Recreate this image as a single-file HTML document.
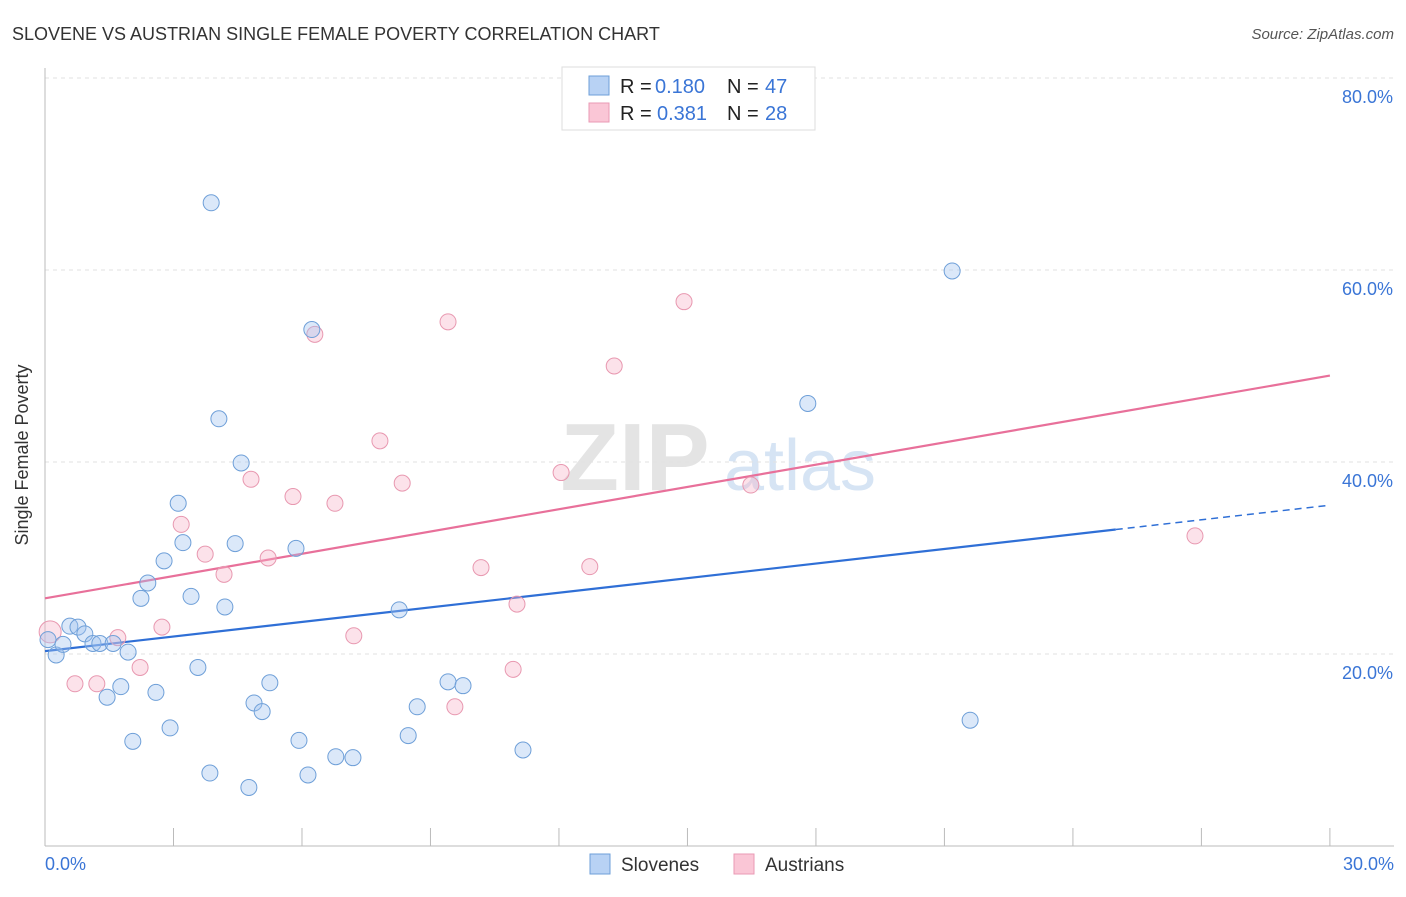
<!DOCTYPE html>
<html><head><meta charset="utf-8"><style>
body{margin:0;background:#fff;font-family:"Liberation Sans",sans-serif;}
svg text{font-family:"Liberation Sans",sans-serif;}
</style></head><body>
<svg id="chart" width="1406" height="892" xmlns="http://www.w3.org/2000/svg">
<text x="12" y="40" font-size="18" fill="#333">SLOVENE VS AUSTRIAN SINGLE FEMALE POVERTY CORRELATION CHART</text>
<text x="1394" y="39" font-size="15" fill="#555" font-style="italic" text-anchor="end">Source: ZipAtlas.com</text>
<text x="635" y="490" font-size="96" fill="#e4e4e4" font-family="Liberation Serif" font-weight="bold" text-anchor="middle">ZIP</text>
<text x="800" y="490" font-size="72" fill="#d6e4f4" text-anchor="middle">atlas</text>
<g id="grid"></g><g id="axes"></g><g id="lines"></g><g id="pts"></g>
<text x="28" y="455" font-size="18" fill="#333" text-anchor="middle" transform="rotate(-90 28 455)">Single Female Poverty</text>
<text x="45" y="870" font-size="18" fill="#3a75d6">0.0%</text>
<text x="1394" y="870" font-size="18" fill="#3a75d6" text-anchor="end">30.0%</text>
<g>
<rect x="562" y="67" width="253" height="63" fill="#fff" stroke="#ddd"/>
<rect x="589" y="76" width="20" height="19" fill="#b8d2f4" stroke="#6e9fd8"/>
<rect x="589" y="103" width="20" height="19" fill="#fac6d6" stroke="#ea9ab4"/>
<text x="620" y="93" font-size="20" fill="#222">R =</text>
<text x="655" y="93" font-size="20" fill="#3a75d6">0.180</text>
<text x="727" y="93" font-size="20" fill="#222">N =</text>
<text x="765" y="93" font-size="20" fill="#3a75d6">47</text>
<text x="620" y="120" font-size="20" fill="#222">R =</text>
<text x="657" y="120" font-size="20" fill="#3a75d6">0.381</text>
<text x="727" y="120" font-size="20" fill="#222">N =</text>
<text x="765" y="120" font-size="20" fill="#3a75d6">28</text>
</g>
<g>
<rect x="590" y="854" width="20" height="20" fill="#b8d2f4" stroke="#6e9fd8"/>
<text x="621" y="871" font-size="19" fill="#333">Slovenes</text>
<rect x="734" y="854" width="20" height="20" fill="#fac6d6" stroke="#ea9ab4"/>
<text x="765" y="871" font-size="19" fill="#333">Austrians</text>
</g>
</svg>
<script>
const yTicks=[20,40,60,80];
const xTicks=[0,3,6,9,12,15,18,21,24,27,30];
const blueX=[0.07,0.26,0.42,0.58,0.77,0.93,1.12,1.28,1.59,1.45,1.77,1.94,2.05,2.24,2.40,2.59,2.78,2.92,3.11,3.22,3.41,3.57,3.85,3.88,4.06,4.20,4.44,4.58,4.76,4.88,5.07,5.25,5.86,5.93,6.14,6.23,6.79,7.19,8.27,8.48,8.69,9.41,9.76,11.16,17.81,21.18,21.60];
const blueY=[21.5,19.9,21.0,22.9,22.8,22.1,21.1,21.1,21.1,15.5,16.6,20.2,10.9,25.8,27.4,16.0,29.7,12.3,35.7,31.6,26.0,18.6,7.6,67.0,44.5,24.9,31.5,39.9,6.1,14.9,14.0,17.0,31.0,11.0,7.4,53.8,9.3,9.2,24.6,11.5,14.5,17.1,16.7,10.0,46.1,59.9,13.1];
const pinkX=[0.12,0.70,1.21,1.70,2.22,2.73,3.18,3.74,4.18,4.81,5.21,5.79,6.30,6.77,7.21,7.82,8.34,9.41,9.57,10.18,10.93,11.02,12.05,12.72,13.29,14.92,16.48,26.85];
const pinkY=[22.3,16.9,16.9,21.7,18.6,22.8,33.5,30.4,28.3,38.2,30.0,36.4,53.3,35.7,21.9,42.2,37.8,54.6,14.5,29.0,18.4,25.2,38.9,29.1,50.0,56.7,37.6,32.3];
const blueLine=[20.3,35.5]; const blueSolidEnd=25;
const pinkLine=[25.8,49.0];
const X=v=>45+v*42.83, Y=v=>846-v*9.6;
const NS="http://www.w3.org/2000/svg";
function mk(t,a,p){const e=document.createElementNS(NS,t);for(const k in a)e.setAttribute(k,a[k]);document.getElementById(p).appendChild(e);return e;}
yTicks.forEach(t=>{
 const l=mk('line',{x1:45,x2:1394,y1:Y(t),y2:Y(t),stroke:'#e2e2e2','stroke-dasharray':'4,4'},'grid');
 
 
 const tx=mk('text',{x:1393,y:Y(t)+25,'font-size':18,fill:'#3a75d6','text-anchor':'end'},'grid');
 tx.textContent=t.toFixed(1)+'%';
 
 
});
const ax=mk('line',{x1:45,x2:45,y1:68,y2:846,stroke:'#bbb'},'axes');


const bx=mk('line',{x1:45,x2:1394,y1:846,y2:846,stroke:'#bbb'},'axes');


xTicks.forEach(t=>{
 const l=mk('line',{x1:X(t),x2:X(t),y1:828,y2:846,stroke:'#bbb'},'axes');
 
 
});
const lr=x=>blueLine[0]+(blueLine[1]-blueLine[0])*x/30;
const b1=mk('line',{x1:X(0),y1:Y(lr(0)),x2:X(blueSolidEnd),y2:Y(lr(blueSolidEnd)),stroke:'#2f6fd6','stroke-width':2.2},'lines');


const b2=mk('line',{x1:X(blueSolidEnd),y1:Y(lr(blueSolidEnd)),x2:X(30),y2:Y(lr(30)),stroke:'#2f6fd6','stroke-width':1.5,'stroke-dasharray':'7,5'},'lines');


const pl=mk('line',{x1:X(0),y1:Y(pinkLine[0]),x2:X(30),y2:Y(pinkLine[1]),stroke:'#e8709a','stroke-width':2.2},'lines');


pinkX.forEach((x,i)=>{
 const c=mk('circle',{cx:X(x),cy:Y(pinkY[i]),r:i==0?11:8,fill:'rgba(246,180,200,0.38)',stroke:'#e898b0','stroke-width':1},'pts');
 
 
});
blueX.forEach((x,i)=>{
 const c=mk('circle',{cx:X(x),cy:Y(blueY[i]),r:8,fill:'rgba(160,195,240,0.38)',stroke:'#6e9fd8','stroke-width':1},'pts');
 
 
});
</script>
</body></html>
